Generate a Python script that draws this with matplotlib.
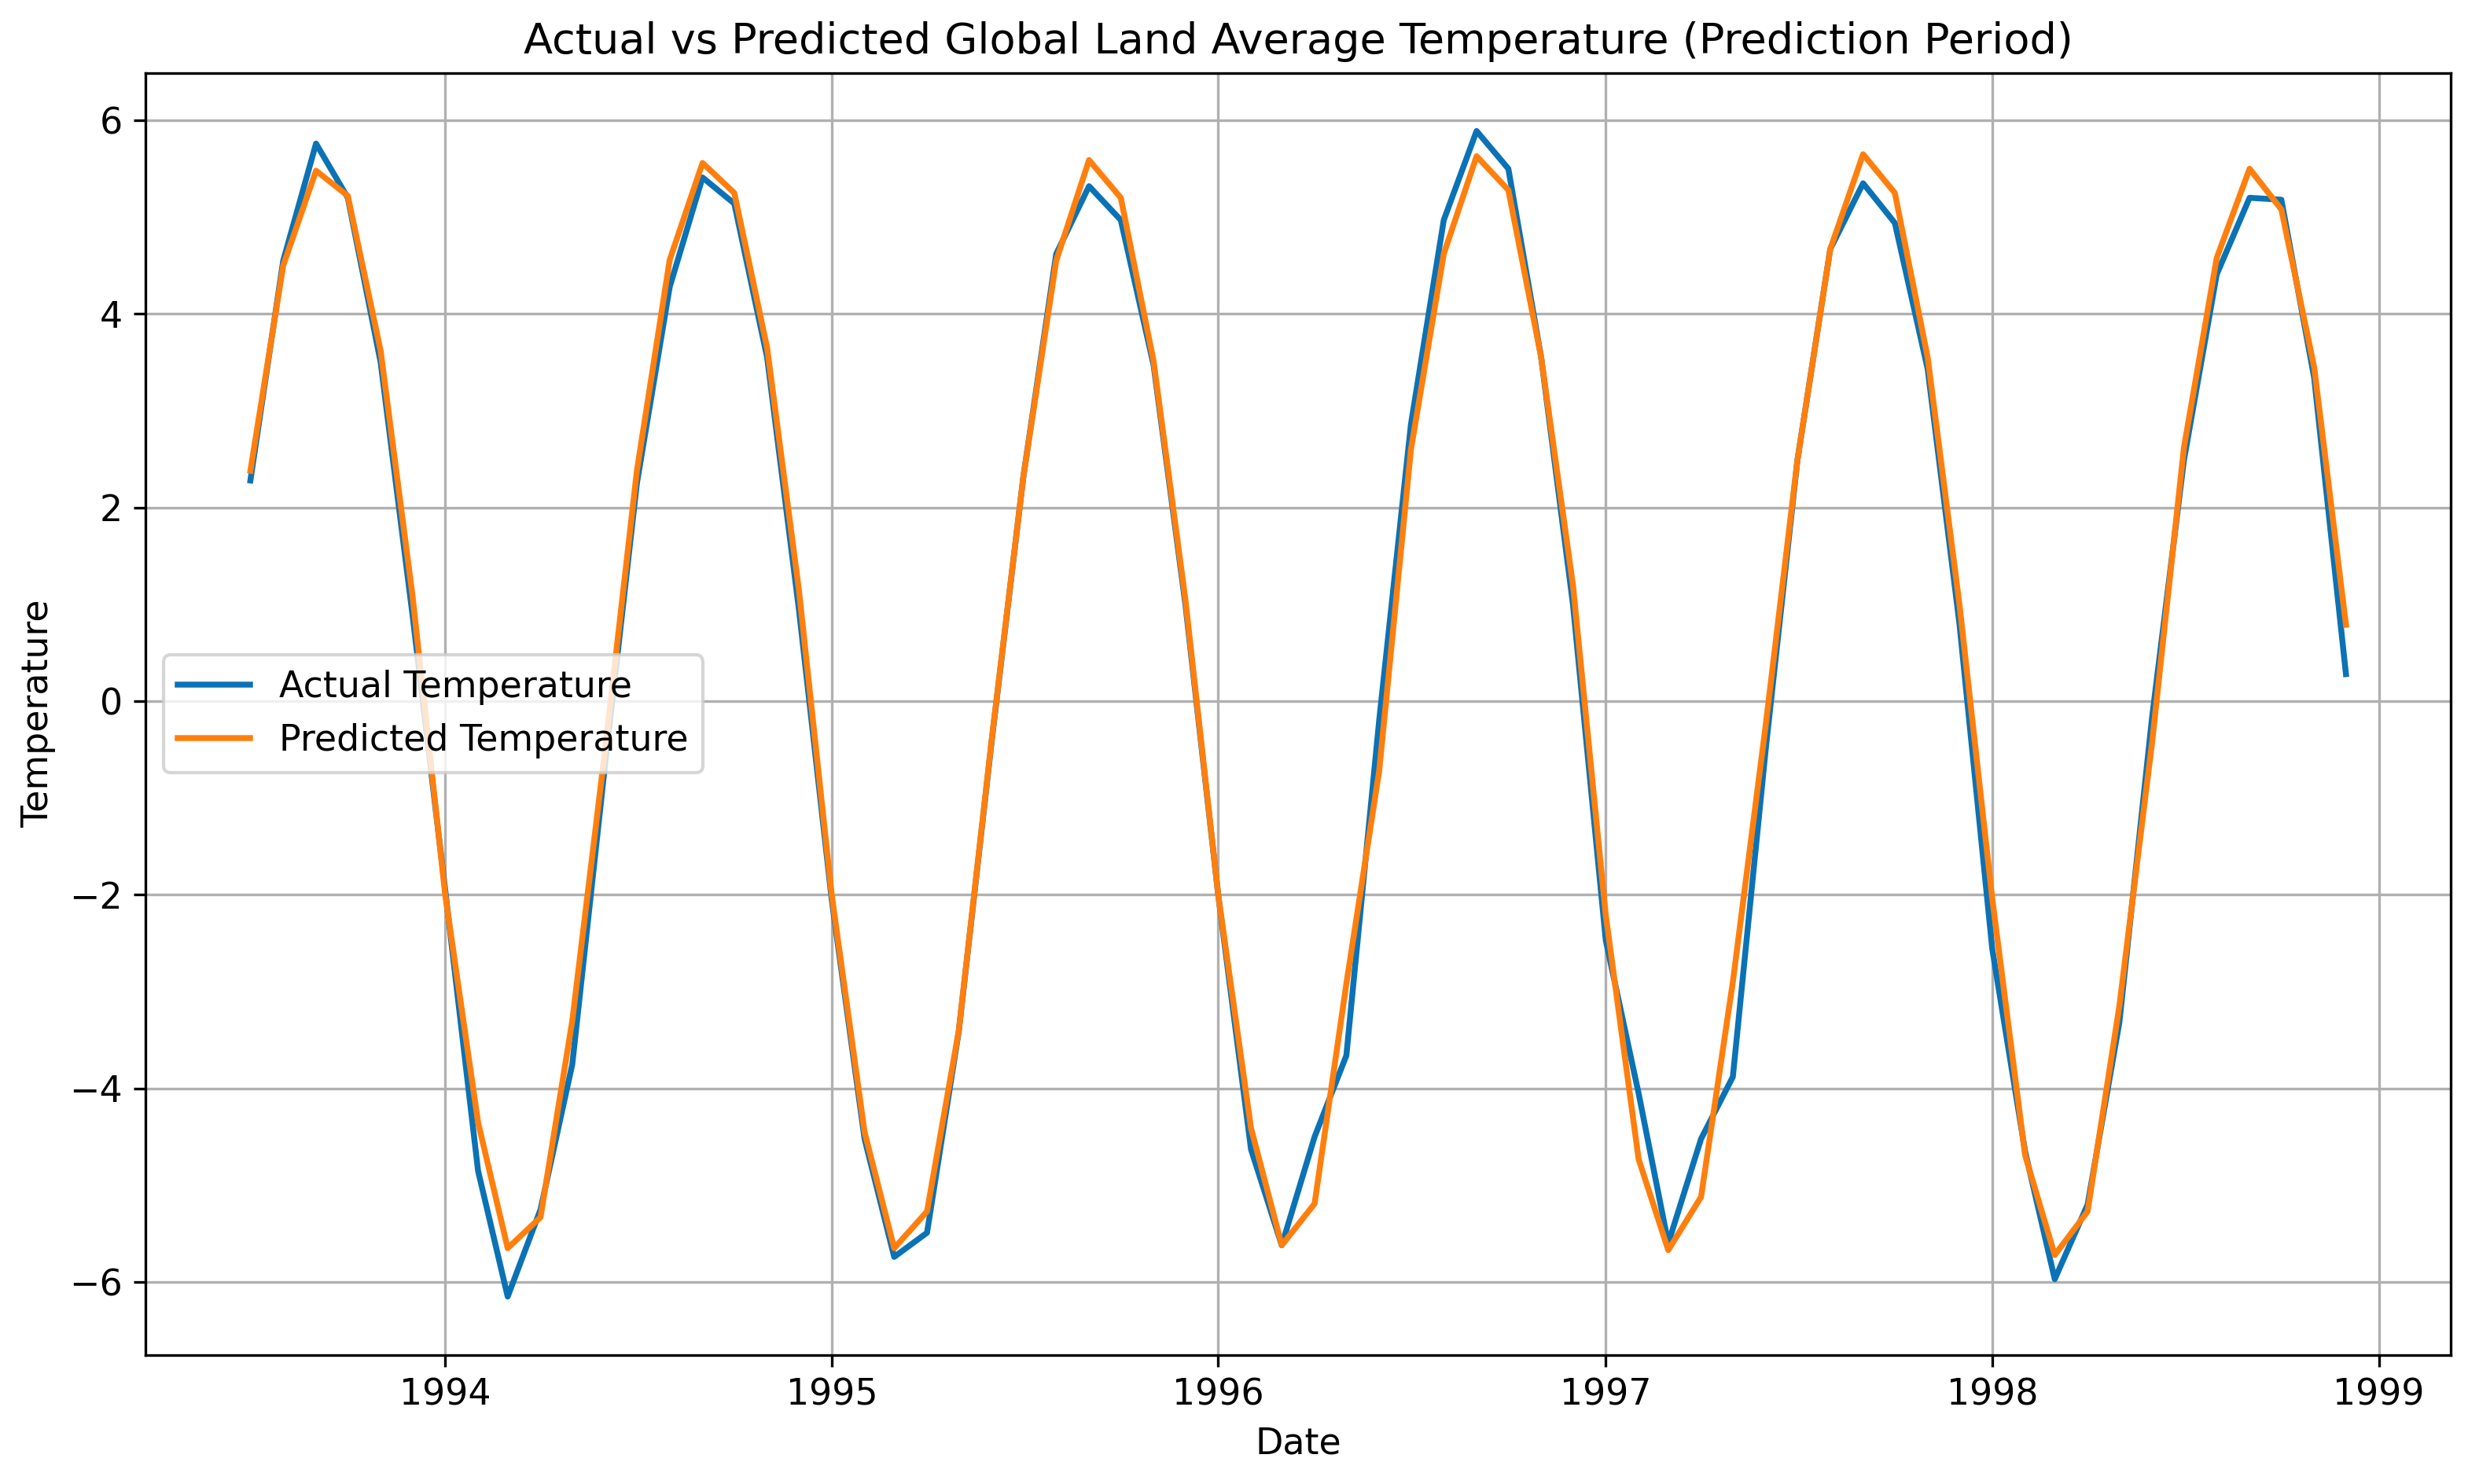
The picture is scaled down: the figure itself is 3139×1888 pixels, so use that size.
import pandas as pd
import matplotlib.pyplot as plt

# monthly values, Jul 1993 .. Dec 1998
start_month = "1993-07-01"

actual_temp = [
    2.28, 4.55, 5.76, 5.20, 3.50, 0.90,                                      # 1993
    -1.95, -4.85, -6.15, -5.25, -3.75, -0.65, 2.25, 4.28, 5.41, 5.14, 3.55, 0.95,  # 1994
    -2.05, -4.52, -5.74, -5.49, -3.41, -0.42, 2.32, 4.62, 5.32, 4.97, 3.47, 1.00,  # 1995
    -2.00, -4.63, -5.62, -4.50, -3.66, -0.20, 2.86, 4.97, 5.89, 5.50, 3.55, 1.00,  # 1996
    -2.47, -4.05, -5.60, -4.52, -3.88, -0.50, 2.49, 4.67, 5.35, 4.94, 3.43, 0.80,  # 1997
    -2.56, -4.65, -5.97, -5.20, -3.32, -0.16, 2.49, 4.41, 5.20, 5.18, 3.34, 0.28,  # 1998
]

predicted_temp = [
    2.38, 4.50, 5.48, 5.22, 3.62, 1.10,
    -2.00, -4.35, -5.65, -5.33, -3.30, -0.50, 2.38, 4.56, 5.56, 5.25, 3.65, 1.15,
    -2.00, -4.45, -5.65, -5.27, -3.40, -0.40, 2.32, 4.55, 5.59, 5.20, 3.51, 1.05,
    -2.00, -4.41, -5.62, -5.19, -2.92, -0.72, 2.60, 4.62, 5.63, 5.28, 3.55, 1.20,
    -2.21, -4.73, -5.67, -5.12, -2.90, -0.25, 2.49, 4.67, 5.65, 5.25, 3.55, 1.00,
    -2.04, -4.69, -5.72, -5.27, -3.15, -0.42, 2.62, 4.58, 5.50, 5.08, 3.45, 0.79,
]

dates = pd.date_range(start_month, periods=len(actual_temp), freq="MS")

fig, ax = plt.subplots(figsize=(3139 / 300, 1888 / 300), dpi=300)
fig.subplots_adjust(left=0.059, right=0.993, bottom=0.087, top=0.951)

ax.plot(dates, actual_temp, label="Actual Temperature", color="#0b72b5", lw=1.8)
ax.plot(dates, predicted_temp, label="Predicted Temperature", color="#ff7f0e", lw=1.8)

ax.set_title("Actual vs Predicted Global Land Average Temperature (Prediction Period)", fontsize=13)
ax.set_xlabel("Date", fontsize=11)
ax.set_ylabel("Temperature", fontsize=11)
ax.tick_params(labelsize=11)
ax.legend(loc="center left", fontsize=11)
ax.grid(True)

fig.savefig("out.png", dpi=300)
